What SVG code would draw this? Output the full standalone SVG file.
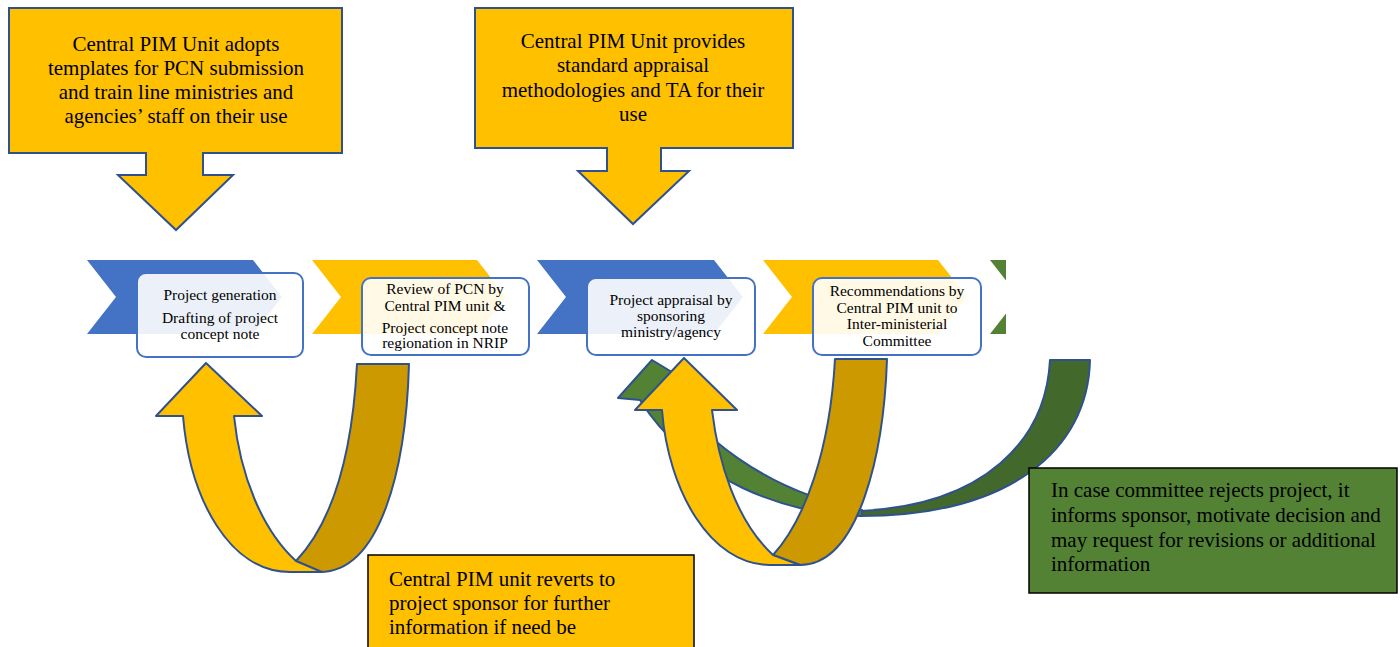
<svg xmlns="http://www.w3.org/2000/svg" width="1400" height="647" viewBox="0 0 1400 647">
<defs>
<style>
.t{font-family:"Liberation Serif","Times New Roman",serif;fill:#000}
.big{font-size:21px}
.sm{font-size:15.5px}
.mid{text-anchor:middle}
.call{fill:#FFC000;stroke:#2F528F;stroke-width:2}
.box{fill:#FFFFFF;fill-opacity:0.9;stroke:#4472C4;stroke-width:2}
.blue{fill:#4472C4}
.yel{fill:#FFC000}
.grn{fill:#548235}
.arr{stroke:#2F528F;stroke-width:2;stroke-linejoin:round}
.note{stroke:#000;stroke-width:1.5}
</style>
<clipPath id="clipG"><rect x="980" y="250" width="26" height="100"/></clipPath>
</defs>
<rect width="1400" height="647" fill="#FFFFFF"/>

<g id="chevrons">
<polygon class="blue" points="87,260 253,260 282,297 253,334 87,334 116,297"/>
<polygon class="yel" points="312,260 477,260 506,297 477,334 312,334 341,297"/>
<polygon class="blue" points="537,260 714,260 743,297 714,334 537,334 566,297"/>
<polygon class="yel" points="763,260 938,260 967,297 938,334 763,334 792,297"/>
<polygon class="grn" clip-path="url(#clipG)" points="990,260 1160,260 1189,297 1160,334 990,334 1019,297"/>
</g>

<g id="step1">
<rect class="box" x="137" y="273" width="166" height="84" rx="9"/>
<text class="t sm mid" x="220" y="300">Project generation</text>
<text class="t sm mid" x="220" y="323">Drafting of project</text>
<text class="t sm mid" x="220" y="339">concept note</text>
</g>
<g id="step2">
<rect class="box" x="362" y="278" width="167" height="77" rx="9"/>
<text class="t sm mid" x="445" y="294">Review of PCN by</text>
<text class="t sm mid" x="445" y="311">Central PIM unit &amp;</text>
<text class="t sm mid" x="445" y="333">Project concept note</text>
<text class="t sm mid" x="445" y="348">regionation in NRIP</text>
</g>
<g id="step3">
<rect class="box" x="587" y="278" width="168" height="77" rx="9"/>
<text class="t sm mid" x="671" y="305">Project appraisal by</text>
<text class="t sm mid" x="671" y="321">sponsoring</text>
<text class="t sm mid" x="671" y="337">ministry/agency</text>
</g>
<g id="step4">
<rect class="box" x="813" y="278" width="168" height="77" rx="9"/>
<text class="t sm mid" x="897" y="296">Recommendations by</text>
<text class="t sm mid" x="897" y="313">Central PIM unit to</text>
<text class="t sm mid" x="897" y="329">Inter-ministerial</text>
<text class="t sm mid" x="897" y="346">Committee</text>
</g>

<g id="connectors">
<!-- green rejection arrow -->
<path class="arr" fill="#43682B" d="M1050,360 L1090,360 C1088,450 1010,516 860,516 L860,511 C985,505 1046,440 1050,360 Z"/>
<path class="arr" fill="#548235" d="M862,516 C790,516 690,480 640,400 L618,398 L652,360 L695,386 L675,395 C695,430 760,490 862,510 Z"/>
<!-- left U-turn arrow -->
<path class="arr" fill="#CC9A00" d="M357,364 L409,364 C406,470 380,572 320,572 L296,561 C330,525 352,460 357,364 Z"/>
<path class="arr" fill="#FFC000" d="M156,416 L206,363 L262,416 L234,416 C240,475 262,530 296,561 L322,572 L290,572 C230,572 190,500 183,416 Z"/>
<!-- right U-turn arrow -->
<path class="arr" fill="#CC9A00" d="M835,359 L887,359 C884,450 860,565 800,565 L773,555 C805,520 830,450 835,359 Z"/>
<path class="arr" fill="#FFC000" d="M635,410 L684,358 L737,410 L712,410 C718,460 735,520 773,555 L800,565 L770,565 C710,565 668,490 662,410 Z"/>
</g>

<g id="callout1">
<path class="call" d="M9,8 L342,8 L342,153 L203,153 L203,175 L233,175 L176,230 L118,175 L146,175 L146,153 L9,153 Z"/>
<text class="t big mid" x="176" y="51">Central PIM Unit adopts</text>
<text class="t big mid" x="176" y="75">templates for PCN submission</text>
<text class="t big mid" x="176" y="99">and train line ministries and</text>
<text class="t big mid" x="176" y="123">agencies’ staff on their use</text>
</g>
<g id="callout2">
<path class="call" d="M475,8 L793,8 L793,148 L661,148 L661,171 L689,171 L633,224 L578,171 L607,171 L607,148 L475,148 Z"/>
<text class="t big mid" x="633" y="48">Central PIM Unit provides</text>
<text class="t big mid" x="633" y="72">standard appraisal</text>
<text class="t big mid" x="633" y="97">methodologies and TA for their</text>
<text class="t big mid" x="633" y="121">use</text>
</g>

<g id="note-revert">
<rect class="note" x="368" y="555" width="326" height="100" fill="#FFC000"/>
<text class="t big" x="389" y="586">Central PIM unit reverts to</text>
<text class="t big" x="389" y="610">project sponsor for further</text>
<text class="t big" x="389" y="634">information if need be</text>
</g>
<g id="note-reject">
<rect class="note" x="1029" y="468" width="368" height="125" fill="#548235"/>
<text class="t big" x="1051" y="497">In case committee rejects project, it</text>
<text class="t big" x="1051" y="522">informs sponsor, motivate decision and</text>
<text class="t big" x="1051" y="547">may request for revisions or additional</text>
<text class="t big" x="1051" y="571">information</text>
</g>
</svg>
